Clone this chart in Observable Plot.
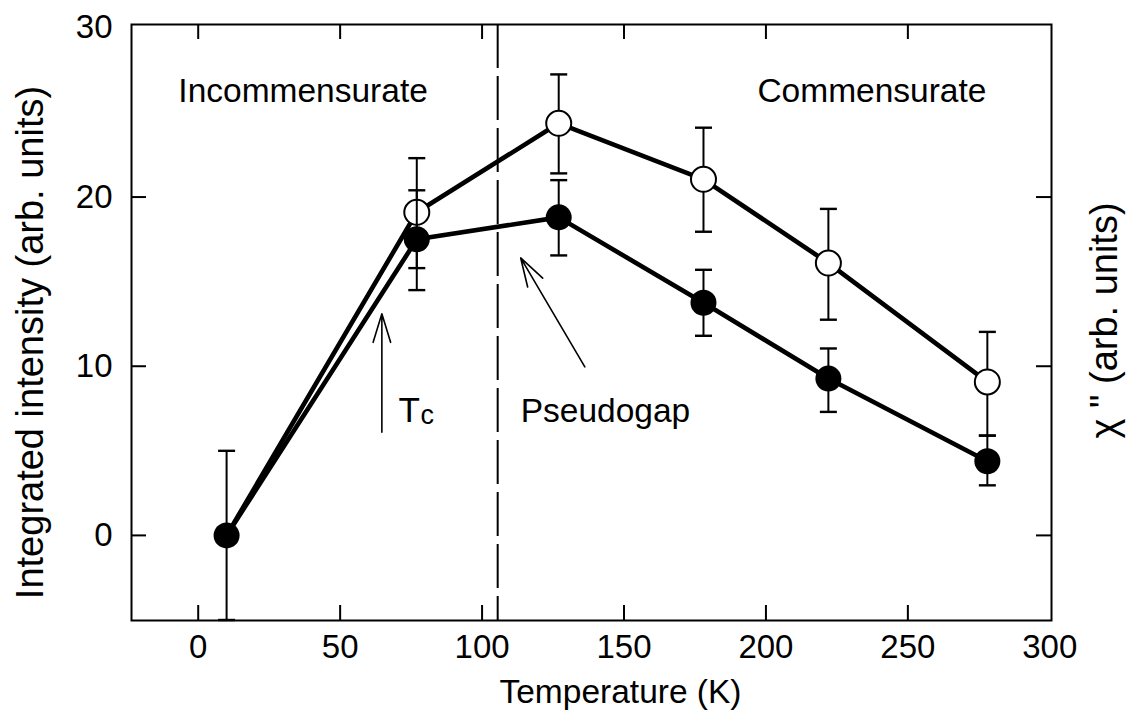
<!DOCTYPE html>
<html>
<head>
<meta charset="utf-8">
<script src="https://cdn.jsdelivr.net/npm/d3@7"></script>
<script src="https://cdn.jsdelivr.net/npm/@observablehq/plot@0.6"></script>
<style>
  html, body { margin: 0; padding: 0; background: white; }
  #chart { width: 1132px; height: 719px; }
</style>
</head>
<body>
<div id="chart"></div>
<script>
// ---- data ----
const temps        = [10, 77, 127, 178, 222, 278];
const intensity    = [0, 17.5, 18.8, 13.75, 9.27, 4.38];
const intensityLo  = [-5, 14.5, 16.55, 11.8, 7.3, 2.96];
const intensityHi  = [5, 20.4, 21.0, 15.7, 11.05, 5.9];

const chiTemps     = [77, 127, 178, 222, 278];
const chi          = [19.1, 24.36, 21.05, 16.1, 9.07];
const chiLo        = [15.8, 21.4, 17.95, 12.75, 5.9];
const chiHi        = [22.3, 27.25, 24.1, 19.3, 12.03];

const xTicks = [0, 50, 100, 150, 200, 250, 300];
const yTicks = [0, 10, 20, 30];
const xTickMarks = [0, 50, 100, 150, 200, 250];
const yTickMarks = [0, 10, 20];

const pseudogapT = 105.5;
const xLabel = "Temperature (K)";
const yLabel = "Integrated intensity (arb. units)";
const y2Label = "χ \" (arb. units)";
const regionLabels = ["Incommensurate", "Commensurate"];

// ---- build tables ----
const filled = temps.map((t, i) => ({x: t, y: intensity[i], lo: intensityLo[i], hi: intensityHi[i]}));
const open = chiTemps.map((t, i) => ({x: t, y: chi[i], lo: chiLo[i], hi: chiHi[i]}));
const openLine = [{x: temps[0], y: intensity[0]}, ...open];

// annotation placements (data units)
const regionPos = [{x: -7, y: 25.6}, {x: 197, y: 25.6}];
const regionData = regionLabels.map((t, i) => ({text: t, ...regionPos[i]}));
const arrows = [
  {x1: 64.7, y1: 6.1, x2: 64.7, y2: 13.1},
  {x1: 136.2, y1: 9.96, x2: 113.6, y2: 16.4}
];

const W = 1132, H = 719;
const mL = 131, mR = 81, mT = 24, mB = 99;
const pW = W - mL - mR, pH = H - mT - mB;
const tickLen = 15;

const capSymbol = {
  draw(context, size) {
    const r = Math.sqrt(size / Math.PI);
    context.moveTo(-r, 0);
    context.lineTo(r, 0);
  }
};

const font = "'Liberation Sans', Arial, Helvetica, sans-serif";

const chart = Plot.plot({
  width: W,
  height: H,
  marginLeft: mL,
  marginRight: mR,
  marginTop: mT,
  marginBottom: mB,
  x: {domain: [-23.5, 300.6]},
  y: {domain: [-5.03, 30.2]},
  style: {fontFamily: font, background: "white", color: "black", overflow: "visible"},
  marks: [
    // axes labels (tick text only)
    Plot.axisX(xTicks, {anchor: "bottom", tickSize: 0, tickPadding: 14, label: null, fontSize: 33, tickFormat: d => String(d)}),
    Plot.axisY(yTicks, {anchor: "left", tickSize: 0, tickPadding: 19, label: null, fontSize: 33, tickFormat: d => String(d)}),
    // inward ticks
    Plot.tickX(xTickMarks, {x: d => d, insetTop: pH - tickLen, stroke: "black", strokeWidth: 2}),
    Plot.tickX(xTickMarks, {x: d => d, insetBottom: pH - tickLen, stroke: "black", strokeWidth: 2}),
    Plot.tickY(yTickMarks, {y: d => d, insetRight: pW - tickLen, stroke: "black", strokeWidth: 2}),
    Plot.tickY(yTickMarks, {y: d => d, insetLeft: pW - tickLen, stroke: "black", strokeWidth: 2}),
    Plot.frame({stroke: "black", strokeWidth: 2}),
    // dashed pseudogap line
    Plot.ruleX([pseudogapT], {stroke: "black", strokeWidth: 2, strokeDasharray: "44,8"}),
    // lines
    Plot.line(filled, {x: "x", y: "y", stroke: "black", strokeWidth: 4.6}),
    Plot.line(openLine, {x: "x", y: "y", stroke: "black", strokeWidth: 4.6}),
    // open series error bars + dots
    Plot.ruleX(open, {x: "x", y1: "lo", y2: "hi", stroke: "black", strokeWidth: 2}),
    Plot.dot(open, {x: "x", y: "lo", symbol: capSymbol, r: 8.5, stroke: "black", strokeWidth: 2.4}),
    Plot.dot(open, {x: "x", y: "hi", symbol: capSymbol, r: 8.5, stroke: "black", strokeWidth: 2.4}),
    Plot.dot(open, {x: "x", y: "y", r: 12.5, fill: "white", stroke: "black", strokeWidth: 2}),
    // filled series error bars + dots
    Plot.ruleX(filled, {x: "x", y1: "lo", y2: "hi", stroke: "black", strokeWidth: 2}),
    Plot.dot(filled, {x: "x", y: "lo", symbol: capSymbol, r: 8.5, stroke: "black", strokeWidth: 2.4}),
    Plot.dot(filled, {x: "x", y: "hi", symbol: capSymbol, r: 8.5, stroke: "black", strokeWidth: 2.4}),
    Plot.dot(filled, {x: "x", y: "y", r: 13, fill: "black", stroke: "none"}),
    // arrows
    Plot.arrow(arrows, {x1: "x1", y1: "y1", x2: "x2", y2: "y2", stroke: "black", strokeWidth: 1.6, headLength: 28, headAngle: 34}),
    // annotations
    Plot.text(regionData, {x: "x", y: "y", text: "text", textAnchor: "start", lineAnchor: "bottom", fontSize: 33.5, fill: "black"}),
    Plot.text(["T"], {x: 70.6, y: 6.7, text: d => d, textAnchor: "start", lineAnchor: "bottom", fontSize: 35, fill: "black"}),
    Plot.text(["c"], {x: 78.3, y: 6.7, dy: 2, text: d => d, textAnchor: "start", lineAnchor: "bottom", fontSize: 27, fill: "black"}),
    Plot.text(["Pseudogap"], {x: 113.6, y: 6.7, text: d => d, textAnchor: "start", lineAnchor: "bottom", fontSize: 33.5, fill: "black"}),
    // axis titles
    Plot.text([xLabel], {frameAnchor: "bottom", textAnchor: "middle", dx: 29, dy: 82, text: d => d, lineAnchor: "bottom", fontSize: 33.5, fill: "black"}),
    Plot.text([yLabel], {frameAnchor: "left", textAnchor: "middle", dx: -101, dy: 20, rotate: -90, text: d => d, lineAnchor: "middle", fontSize: 38, fill: "black"}),
    Plot.text([y2Label], {frameAnchor: "right", textAnchor: "middle", dx: 53, dy: -2, rotate: -90, text: d => d, lineAnchor: "middle", fontSize: 38, fill: "black"})
  ]
});

document.getElementById("chart").appendChild(chart);
</script>
</body>
</html>
